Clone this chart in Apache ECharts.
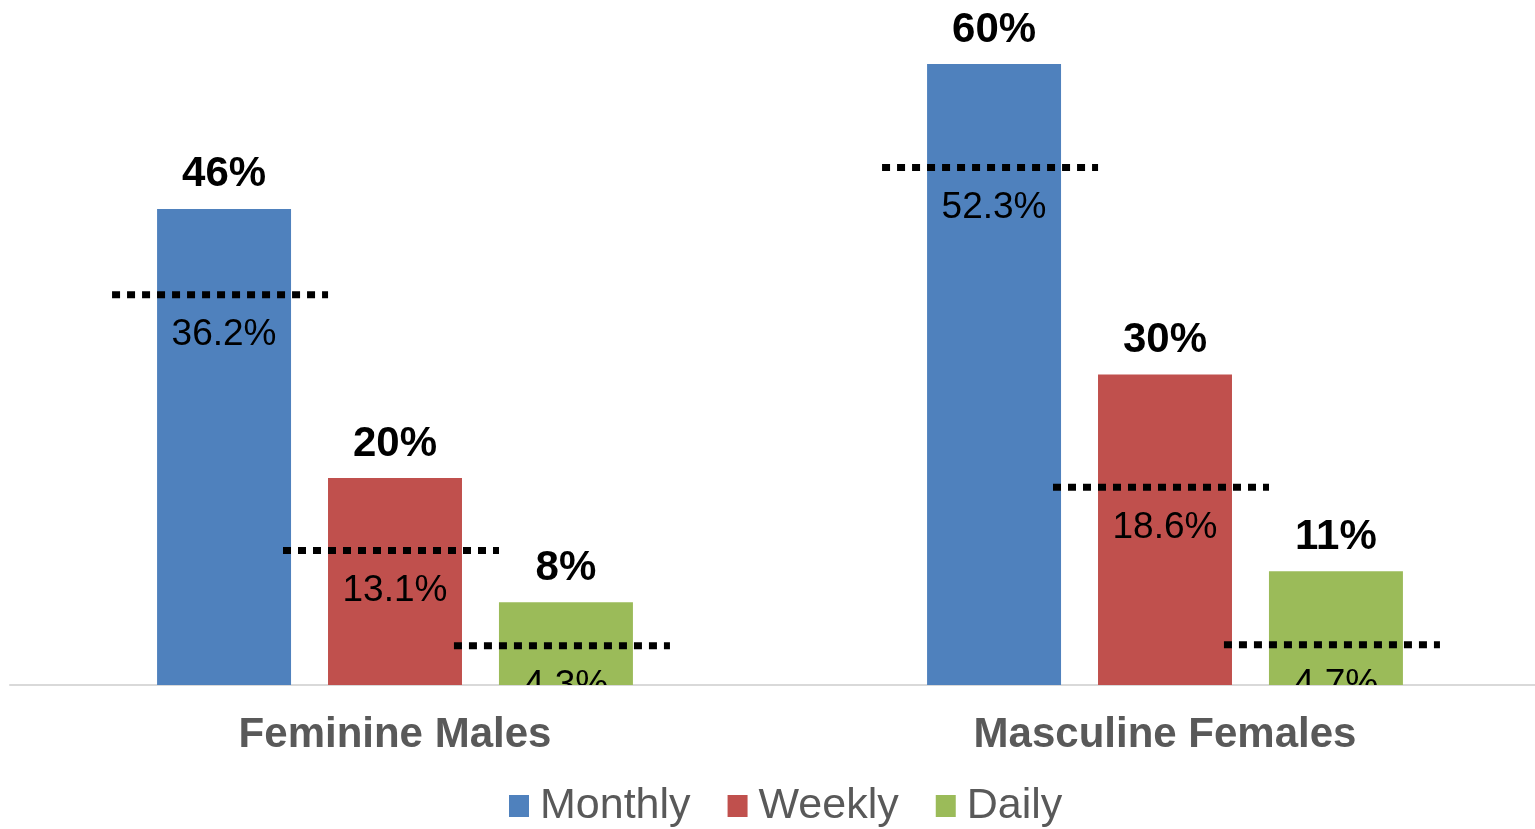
<!DOCTYPE html>
<html>
<head>
<meta charset="utf-8">
<script src="https://cdn.jsdelivr.net/npm/echarts@6/dist/echarts.min.js"></script>
<style>
  html, body { margin: 0; padding: 0; background: #fff; overflow: hidden; }
  #chart { width: 1550px; height: 829px; }
</style>
</head>
<body>
<div id="chart"></div>
<script>
const categories = ['Feminine Males', 'Masculine Females'];
const seriesNames = ['Monthly', 'Weekly', 'Daily'];
const monthly = [46, 60];
const weekly = [20, 30];
const daily = [8, 11];
const refMonthly = [37.7, 50.0];
const refWeekly = [13.0, 19.1];
const refDaily = [3.8, 3.9];
const refMonthlyLabels = ['36.2%', '52.3%'];
const refWeeklyLabels = ['13.1%', '18.6%'];
const refDailyLabels = ['4.3%', '4.7%'];

const colors = ['#4F81BD', '#C0504D', '#9BBB59'];
const FONT = '"Liberation Sans", Arial, sans-serif';
const BAR_GAP = 0.276;
const CAT_GAP = 0.382;

const chart = echarts.init(document.getElementById('chart'));

function barSeries(name, data, color) {
  return {
    name: name,
    type: 'bar',
    data: data,
    barGap: (BAR_GAP * 100) + '%',
    barCategoryGap: (CAT_GAP * 100) + '%',
    itemStyle: { color: color },
    label: {
      show: true,
      position: 'top',
      distance: 11,
      formatter: '{c}%',
      fontFamily: FONT,
      fontWeight: 'bold',
      fontSize: 42,
      lineHeight: 46,
      color: '#000'
    },
    z: 2
  };
}

function refSeries(k, values, labels) {
  return {
    name: 'ref' + k,
    type: 'custom',
    clip: true,
    z: 5,
    data: values.map((v, i) => [i, v]),
    renderItem: function (params, api) {
      const cat = api.value(0);
      const val = api.value(1);
      const pt = api.coord([cat, val]);
      const catW = api.size([1, 0])[0];
      const barW = catW * (1 - CAT_GAP) / (3 + 2 * BAR_GAP);
      const step = barW * (1 + BAR_GAP);
      const cx = pt[0] + (k - 1) * step;
      const half = catW * 108 / 770;
      const lx = cx - 4;
      return {
        type: 'group',
        children: [
          {
            type: 'line',
            shape: { x1: lx - half, y1: pt[1], x2: lx + half, y2: pt[1] },
            style: { stroke: '#000', lineWidth: 7, lineDash: [8, 7] }
          },
          {
            type: 'text',
            style: {
              text: labels[params.dataIndex],
              x: cx,
              y: pt[1] + 40,
              align: 'center',
              verticalAlign: 'middle',
              fill: '#000',
              fontFamily: FONT,
              fontSize: 37
            }
          }
        ]
      };
    }
  };
}

chart.setOption({
  backgroundColor: '#fff',
  animation: false,
  grid: { left: 10, width: 1540, top: 64, bottom: 144, containLabel: false },
  legend: {
    data: seriesNames,
    left: 509,
    top: 783,
    padding: 0,
    itemWidth: 20,
    itemHeight: 22,
    itemGap: 37,
    icon: 'rect',
    textStyle: {
      fontFamily: FONT,
      fontSize: 43,
      lineHeight: 46,
      color: '#595959',
      padding: [0, 0, 0, 6]
    }
  },
  xAxis: {
    type: 'category',
    data: categories,
    axisLine: { show: true, lineStyle: { color: '#d9d9d9', width: 2 } },
    axisTick: { show: false },
    axisLabel: {
      margin: 27,
      fontFamily: FONT,
      fontWeight: 'bold',
      fontSize: 42,
      lineHeight: 46,
      color: '#595959'
    }
  },
  yAxis: {
    type: 'value',
    min: 0,
    max: 60,
    show: false,
    splitLine: { show: false }
  },
  series: [
    barSeries(seriesNames[0], monthly, colors[0]),
    barSeries(seriesNames[1], weekly, colors[1]),
    barSeries(seriesNames[2], daily, colors[2]),
    refSeries(0, refMonthly, refMonthlyLabels),
    refSeries(1, refWeekly, refWeeklyLabels),
    refSeries(2, refDaily, refDailyLabels)
  ]
});
</script>
</body>
</html>
